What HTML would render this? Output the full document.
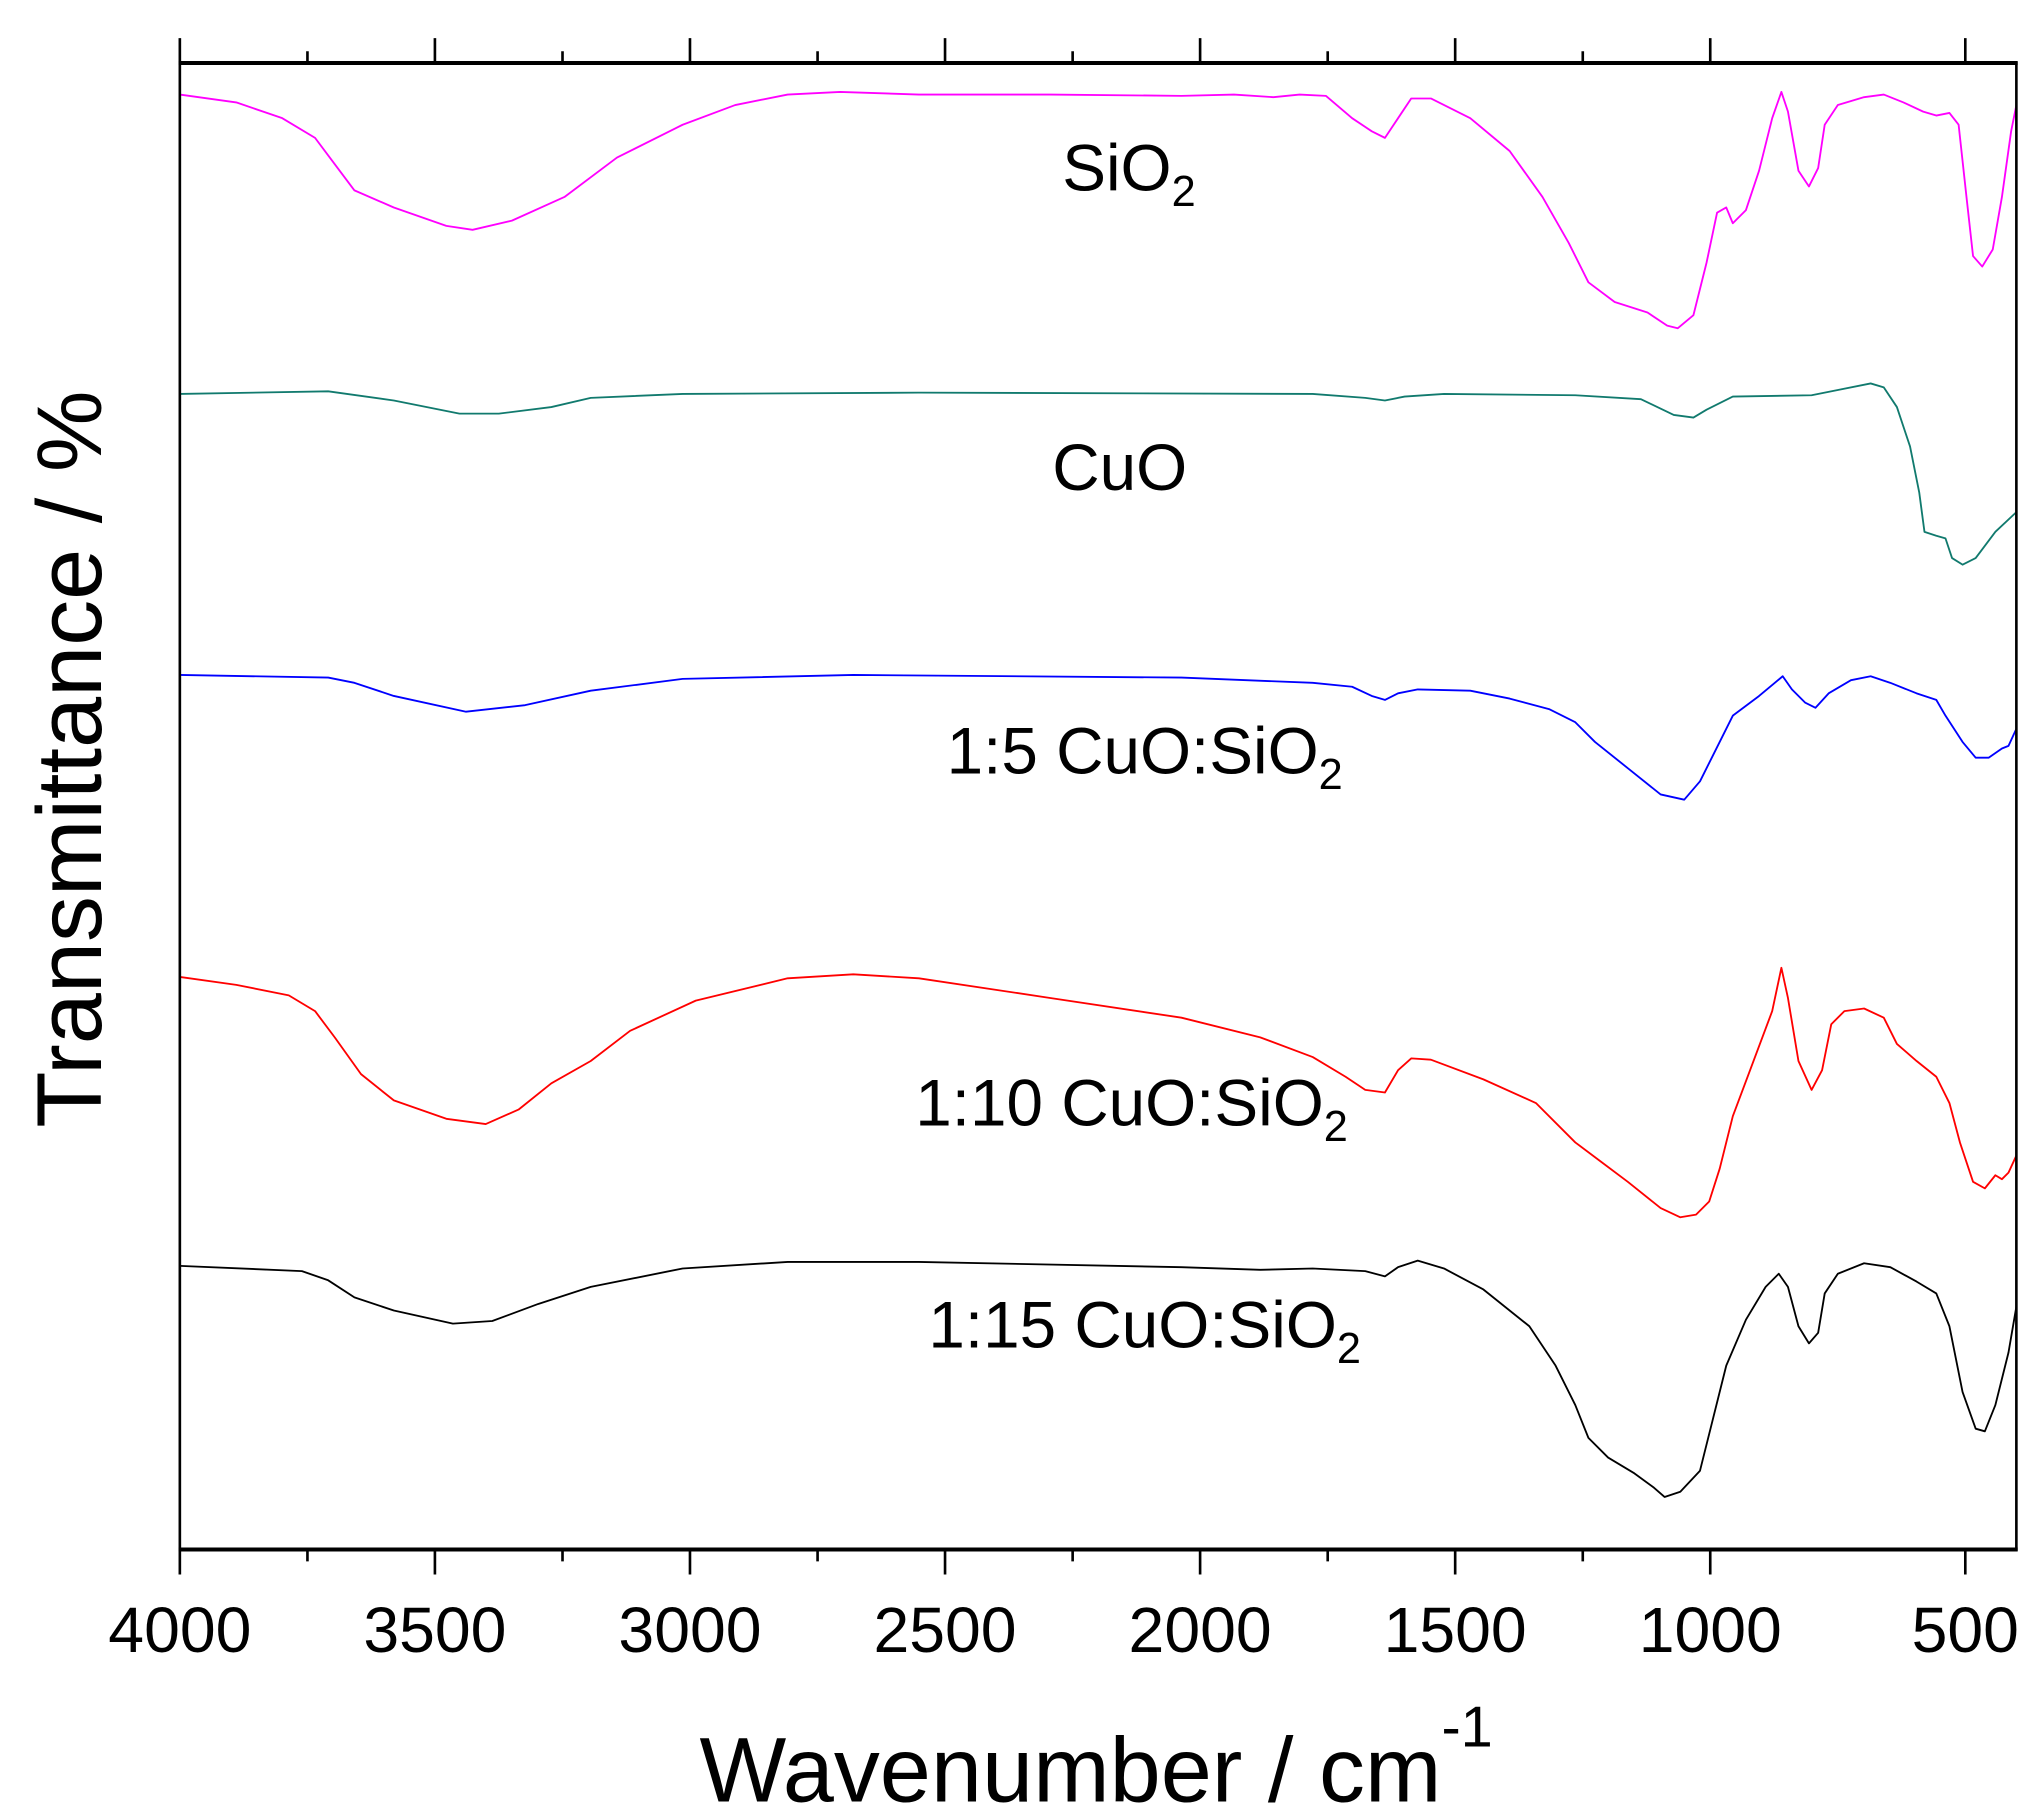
<!DOCTYPE html>
<html><head><meta charset="utf-8"><style>
html,body{margin:0;padding:0;background:#fff;}
svg{display:block;}
text{font-family:"Liberation Sans",Arial,sans-serif;fill:#000;}
</style></head><body>
<svg width="2040" height="1820" viewBox="0 0 1554 1386" preserveAspectRatio="none" xmlns="http://www.w3.org/2000/svg">
<rect width="1554" height="1386" fill="#fff"/>
<g fill="none" stroke-width="1.4" stroke-linejoin="round">
<polyline stroke="#ff00ff" points="137,72 180,78 215,90 240,105 255,125 270,145 300,158 340,172 360,175 390,168 430,150 470,120 520,95 560,80 600,72 640,70 700,72 800,72 900,73 940,72 970,74 990,72 1010,73 1030,90 1045,100 1055,105 1065,90 1075,75 1090,75 1120,90 1150,115 1175,150 1195,185 1210,215 1230,230 1255,238 1270,248 1278,250 1290,240 1300,200 1308,162 1315,158 1320,170 1330,160 1340,130 1350,90 1357,70 1362,85 1370,130 1378,142 1385,128 1390,95 1400,80 1420,74 1435,72 1450,78 1465,85 1475,88 1485,86 1492,95 1498,150 1503,195 1510,203 1518,190 1525,150 1532,100 1536,80"/>
<polyline stroke="#117a6e" points="137,300 250,298 300,305 350,315 380,315 420,310 450,303 520,300 700,299 1000,300 1040,303 1055,305 1070,302 1100,300 1200,301 1250,304 1275,316 1290,318 1300,312 1320,302 1380,301 1400,297 1425,292 1435,295 1445,310 1455,340 1462,375 1466,405 1475,408 1482,410 1487,425 1495,430 1505,425 1520,405 1536,390"/>
<polyline stroke="#0000ff" points="137,514 250,516 270,520 300,530 355,542 400,537 450,526 520,517 650,514 900,516 1000,520 1030,523 1045,530 1055,533 1065,528 1080,525 1120,526 1150,532 1180,540 1200,550 1215,565 1240,585 1265,605 1283,609 1295,595 1305,575 1320,545 1340,530 1352,520 1358,515 1365,525 1375,535 1383,539 1393,528 1410,518 1425,515 1440,520 1460,528 1475,533 1482,545 1495,565 1505,577 1515,577 1525,570 1530,568 1536,555"/>
<polyline stroke="#ff0000" points="137,744 180,750 220,758 240,770 255,790 275,818 300,838 340,852 370,856 395,845 420,825 450,808 480,785 530,762 600,745 650,742 700,745 800,760 900,775 960,790 1000,805 1025,820 1040,830 1055,832 1065,815 1075,806 1090,807 1130,822 1170,840 1200,870 1220,885 1240,900 1265,920 1280,927 1292,925 1302,915 1310,890 1320,850 1335,810 1350,770 1357,737 1362,760 1370,808 1380,830 1388,815 1395,780 1405,770 1420,768 1435,775 1445,795 1460,808 1475,820 1485,840 1493,870 1503,900 1512,905 1520,895 1525,898 1530,893 1536,880"/>
<polyline stroke="#000000" points="137,964 230,968 250,975 270,988 300,998 345,1008 375,1006 410,993 450,980 520,966 600,961 700,961 900,965 960,967 1000,966 1040,968 1055,972 1065,965 1080,960 1100,966 1130,982 1165,1010 1185,1040 1200,1070 1210,1095 1225,1110 1245,1122 1260,1133 1268,1140 1280,1136 1295,1120 1305,1080 1315,1040 1330,1005 1345,980 1355,970 1362,980 1370,1010 1378,1023 1385,1015 1390,985 1400,970 1420,962 1440,965 1460,976 1475,985 1485,1010 1495,1060 1505,1088 1512,1090 1520,1070 1530,1030 1536,995"/>
</g>
<rect x="137" y="48" width="1399" height="1132" fill="none" stroke="#000" stroke-width="2"/>
<line x1="136" y1="48" x2="1537" y2="48" stroke="#000" stroke-width="3"/>
<line x1="136" y1="1180" x2="1537" y2="1180" stroke="#000" stroke-width="3"/>
<g stroke="#000" stroke-width="2">
<path d="M137,1180v19M331.3,1180v19M525.6,1180v19M719.9,1180v19M914.2,1180v19M1108.5,1180v19M1302.8,1180v19M1497.1,1180v19"/>
<path d="M234.2,1180v9M428.5,1180v9M622.8,1180v9M817.1,1180v9M1011.4,1180v9M1205.7,1180v9"/>
<path d="M137,48v-19M331.3,48v-19M525.6,48v-19M719.9,48v-19M914.2,48v-19M1108.5,48v-19M1302.8,48v-19M1497.1,48v-19"/>
<path d="M234.2,48v-9M428.5,48v-9M622.8,48v-9M817.1,48v-9M1011.4,48v-9M1205.7,48v-9"/>
</g>
<g font-size="49" text-anchor="middle">
<text x="137" y="1258">4000</text><text x="331.3" y="1258">3500</text><text x="525.6" y="1258">3000</text><text x="719.9" y="1258">2500</text><text x="914.2" y="1258">2000</text><text x="1108.5" y="1258">1500</text><text x="1302.8" y="1258">1000</text><text x="1497.1" y="1258">500</text>
</g>
<text x="835" y="1372" font-size="70" text-anchor="middle">Wavenumber / cm<tspan font-size="44" dy="-42">-1</tspan></text>
<text x="0" y="0" font-size="70" text-anchor="middle" transform="translate(77,578) rotate(-90)">Transmittance / %</text>
<g font-size="50" text-anchor="middle">
<text x="860" y="145">SiO<tspan font-size="33" dy="12">2</tspan></text>
<text x="853" y="373">CuO</text>
<text x="872" y="589">1:5 CuO:SiO<tspan font-size="33" dy="12">2</tspan></text>
<text x="862" y="857">1:10 CuO:SiO<tspan font-size="33" dy="12">2</tspan></text>
<text x="872" y="1026">1:15 CuO:SiO<tspan font-size="33" dy="12">2</tspan></text>
</g>
</svg>
</body></html>
